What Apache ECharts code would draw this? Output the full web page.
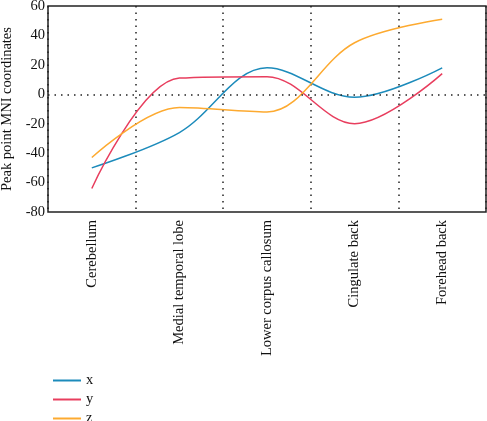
<!DOCTYPE html>
<html><head><meta charset="utf-8">
<script src="https://cdn.jsdelivr.net/npm/echarts@6/dist/echarts.min.js"></script>
<style>html,body{margin:0;padding:0;background:#fff}#c{width:487px;height:421px}</style>
</head><body><div id="c"></div>
<script>
var categories = ['Cerebellum', 'Medial temporal lobe', 'Lower corpus callosum', 'Cingulate back', 'Forehead back'];
var seriesNames = ['x', 'y', 'z'];
var xValues = [-50, -26, 18, -2, 18];
var yValues = [-64, 11, 12, -20, 14];
var zValues = [-43, -9, -12, 35, 51];
var yTicks = {min: -80, max: 60, interval: 20};
var colors = ['#1c8bbb', '#e83e5e', '#fdaa30'];
var font = 'Liberation Serif';

var chart = echarts.init(document.getElementById('c'));
var dotted = {color: '#222', width: 1.5, type: [1.5, 5]};
function mk(name, data, color, withMark) {
  var s = {name: name, type: 'line', data: data, smooth: 0.35, symbol: 'none', showSymbol: false,
    lineStyle: {color: color, width: 1.5}, itemStyle: {color: color}, z: 3};
  if (withMark) {
    s.markLine = {silent: true, symbol: 'none', label: {show: false}, lineStyle: dotted, data: [{yAxis: 0}]};
  }
  return s;
}
chart.setOption({
  animation: false,
  grid: {left: 48, right: 1, top: 6, height: 206, show: true, borderColor: '#222', borderWidth: 1.5, backgroundColor: 'transparent', outerBoundsMode: 'none', containLabel: false},
  legend: {orient: 'vertical', left: 48, top: 368, height: 80, itemWidth: 28, itemHeight: 2, itemGap: 4, icon: 'rect',
    textStyle: {fontFamily: font, fontSize: 14.5, color: '#111'}, data: seriesNames},
  xAxis: {type: 'category', data: categories, boundaryGap: true,
    axisLine: {show: false}, axisTick: {show: false},
    splitLine: {show: true, lineStyle: dotted},
    axisLabel: {rotate: 90, margin: 8, fontFamily: font, fontSize: 14.5, color: '#111', interval: 0}},
  yAxis: {type: 'value', min: yTicks.min, max: yTicks.max, interval: yTicks.interval,
    name: 'Peak point MNI coordinates', nameLocation: 'middle', nameGap: 29,
    nameTextStyle: {fontFamily: font, fontSize: 14.5, color: '#111'},
    axisLine: {show: false}, axisTick: {show: false}, splitLine: {show: false},
    axisLabel: {margin: 3, fontFamily: font, fontSize: 14.5, color: '#111'}},
  series: [mk(seriesNames[0], xValues, colors[0], true), mk(seriesNames[1], yValues, colors[1]), mk(seriesNames[2], zValues, colors[2])]
});
</script></body></html>
